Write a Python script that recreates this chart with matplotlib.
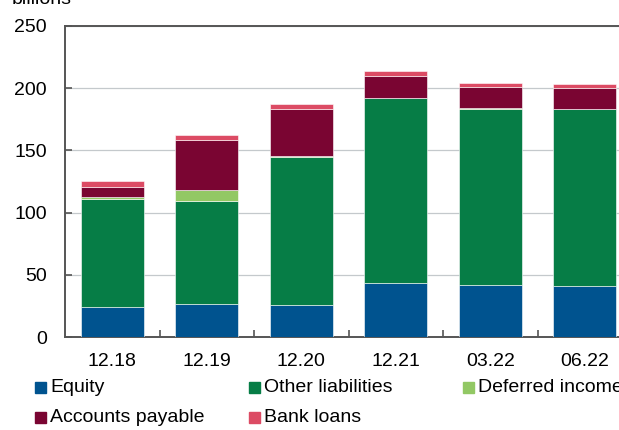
"""Stacked bar chart of liabilities and equity, in billions."""

import matplotlib

matplotlib.use("Agg")
import matplotlib.pyplot as plt
import numpy as np
from matplotlib.patches import Rectangle

plt.rcParams["font.family"] = ["Liberation Sans", "DejaVu Sans"]

PERIODS = ["12.18", "12.19", "12.20", "12.21", "03.22", "06.22"]
EQUITY = [24.4, 26.8, 25.5, 43.4, 41.8, 41.0]
OTHER_LIABILITIES = [86.6, 82.5, 119.2, 148.5, 141.5, 142.0]
DEFERRED_INCOME = [1.8, 8.9, 0.5, 0.5, 0.6, 0.6]
ACCOUNTS_PAYABLE = [8.0, 40.2, 38.1, 17.6, 17.3, 16.8]
BANK_LOANS = [4.6, 3.6, 4.0, 3.8, 3.2, 3.0]

SERIES_NAMES = ["Equity", "Other liabilities", "Deferred income",
                "Accounts payable", "Bank loans"]
SERIES_COLORS = ["#00538F", "#067D46", "#92C864", "#7A0532", "#DC4B64"]

FIG_W, FIG_H, DPI = 6.19, 4.30, 100
W_PX, H_PX = 619, 430
FONT_SIZE = 14
AXIS_COLOR = "#555555"

fig = plt.figure(figsize=(FIG_W, FIG_H), dpi=DPI)
ax = fig.add_axes([65 / W_PX, 1 - 337 / H_PX, 567 / W_PX, 311 / H_PX])

x = np.arange(len(PERIODS))
bottom = np.zeros(len(PERIODS))
series = [EQUITY, OTHER_LIABILITIES, DEFERRED_INCOME, ACCOUNTS_PAYABLE, BANK_LOANS]
for values, color, name in zip(series, SERIES_COLORS, SERIES_NAMES):
    ax.bar(x, values, bottom=bottom, width=0.67, color=color,
           edgecolor="white", linewidth=0.4, label=name, zorder=3)
    bottom += np.array(values)

ax.set_xlim(-0.5, len(PERIODS) - 0.5)
ax.set_ylim(0, 250)
ax.set_yticks([0, 50, 100, 150, 200, 250])
ax.grid(axis="y", color="#c4c9cc", linewidth=0.9, zorder=0)
ax.set_xticks(x)
ax.set_xticklabels(PERIODS)
ax.set_xticks(x[:-1] + 0.5, minor=True)
ax.tick_params(axis="x", which="major", length=0, pad=11.5, labelsize=FONT_SIZE)
ax.tick_params(axis="x", which="minor", direction="in", length=5,
               color=AXIS_COLOR, width=1.2)
ax.tick_params(axis="y", direction="in", length=5, color=AXIS_COLOR,
               width=1.2, pad=13, labelsize=FONT_SIZE)
for side in ["left", "bottom", "top"]:
    ax.spines[side].set_color(AXIS_COLOR)
    ax.spines[side].set_linewidth(1.4)
ax.spines["right"].set_visible(False)

fig.text(12 / W_PX, 1 - 4 / H_PX, "billions", fontsize=FONT_SIZE,
         va="baseline", ha="left")

# legend laid out in fixed columns like the source
legend_cols = [35, 249, 463]
legend_rows = [387, 417]
for i, (name, color) in enumerate(zip(SERIES_NAMES, SERIES_COLORS)):
    px = legend_cols[i % 3]
    py = legend_rows[i // 3]
    fig.patches.append(Rectangle((px / W_PX, 1 - (py + 5.5) / H_PX),
                                 11 / W_PX, 11 / H_PX,
                                 transform=fig.transFigure, color=color))
    fig.text((px + 15) / W_PX, 1 - py / H_PX, name, fontsize=FONT_SIZE,
             va="center", ha="left")

fig.savefig("out.png", dpi=DPI)
